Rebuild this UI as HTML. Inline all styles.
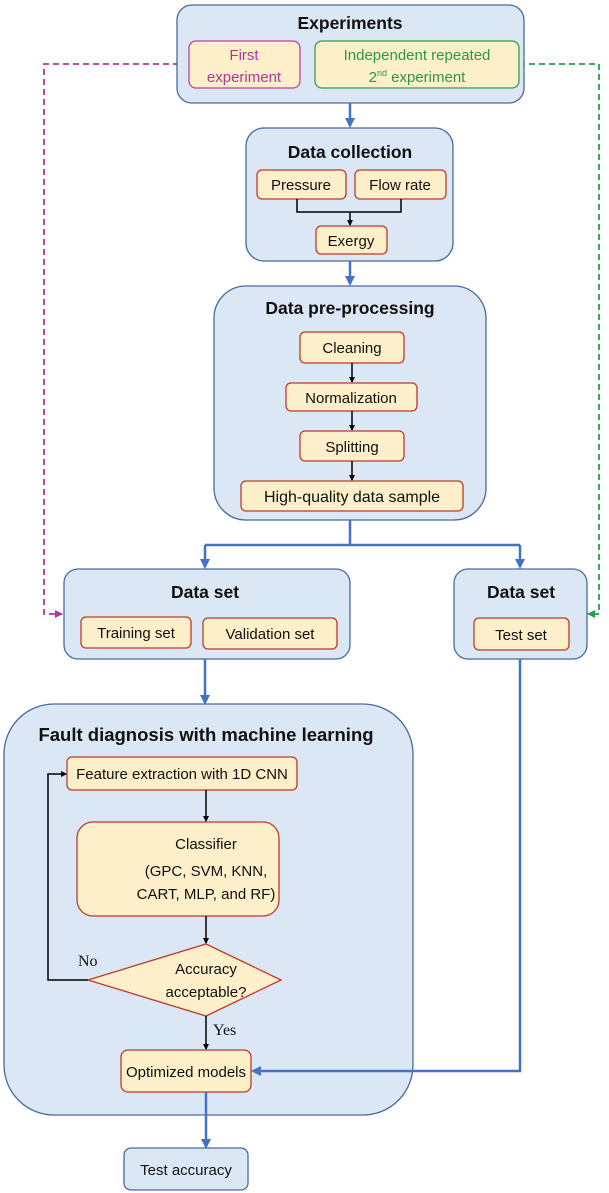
<!DOCTYPE html>
<html><head><meta charset="utf-8"><style>
html,body{margin:0;padding:0;background:#fff}
svg{display:block}
text{font-family:"Liberation Sans",sans-serif;fill:#111}
.t{font-weight:bold;font-size:17.5px}
.s{font-size:15px}
.big{fill:#dbe7f5;stroke:#4a6a9a;stroke-width:1.3}
.y{fill:#fdefc9;stroke:#c0392b;stroke-width:1.3}
.bl{stroke:#4472c4;stroke-width:2.5;fill:none}
.bk{stroke:#000;stroke-width:1.5;fill:none}
</style></head><body>
<svg width="609" height="1193" viewBox="0 0 609 1193" xmlns="http://www.w3.org/2000/svg">
<defs>
<marker id="ab" markerWidth="10" markerHeight="10" refX="8" refY="5" orient="auto" markerUnits="userSpaceOnUse"><path d="M0,0 L10,5 L0,10 Z" fill="#4472c4"/></marker>
<marker id="ak" markerWidth="6" markerHeight="6" refX="5" refY="3" orient="auto" markerUnits="userSpaceOnUse"><path d="M0,0 L6,3 L0,6 Z" fill="#000"/></marker>
<marker id="am" markerWidth="8" markerHeight="8" refX="7" refY="4" orient="auto" markerUnits="userSpaceOnUse"><path d="M0,0 L8,4 L0,8 Z" fill="#b5359b"/></marker>
<marker id="ag" markerWidth="8" markerHeight="8" refX="7" refY="4" orient="auto" markerUnits="userSpaceOnUse"><path d="M0,0 L8,4 L0,8 Z" fill="#22a04a"/></marker>
</defs>

<path d="M189,64 H44 V614 H62" stroke="#b5359b" stroke-width="1.8" stroke-dasharray="6,4" fill="none" marker-end="url(#am)"/>
<path d="M519,64 H599 V614 H588" stroke="#22a04a" stroke-width="1.8" stroke-dasharray="6,4" fill="none" marker-end="url(#ag)"/>

<rect class="big" x="177" y="5" width="347" height="98" rx="15"/>
<text class="t" x="350" y="29" text-anchor="middle">Experiments</text>
<rect x="189" y="41" width="111" height="47" rx="7" fill="#fdefc9" stroke="#c040a0" stroke-width="1.3"/>
<text class="s" x="244" y="60" text-anchor="middle" style="fill:#b5359b">First</text>
<text class="s" x="244" y="82" text-anchor="middle" style="fill:#b5359b">experiment</text>
<rect x="315" y="41" width="204" height="47" rx="7" fill="#fdefc9" stroke="#2ea04a" stroke-width="1.3"/>
<text class="s" x="417" y="60" text-anchor="middle" style="fill:#2a9a40">Independent repeated</text>
<text class="s" x="417" y="82" text-anchor="middle" style="fill:#2a9a40">2<tspan font-size="9" dy="-6" style="fill:#2a9a40">nd</tspan><tspan dy="6" style="fill:#2a9a40"> experiment</tspan></text>

<line class="bl" x1="350" y1="103" x2="350" y2="126" marker-end="url(#ab)"/>

<rect class="big" x="246" y="128" width="207" height="133" rx="18"/>
<text class="t" x="350" y="158" text-anchor="middle">Data collection</text>
<rect class="y" x="257" y="170" width="89" height="29" rx="5"/>
<text class="s" x="301" y="190" text-anchor="middle">Pressure</text>
<rect class="y" x="355" y="170" width="91" height="29" rx="5"/>
<text class="s" x="400" y="190" text-anchor="middle">Flow rate</text>
<path class="bk" d="M297,199 V212 H401 V199"/>
<line class="bk" x1="350" y1="212" x2="350" y2="225" marker-end="url(#ak)"/>
<rect class="y" x="316" y="226" width="71" height="28" rx="5"/>
<text class="s" x="351" y="246" text-anchor="middle">Exergy</text>

<line class="bl" x1="350" y1="261" x2="350" y2="284" marker-end="url(#ab)"/>

<rect class="big" x="214" y="286" width="272" height="234" rx="32"/>
<text class="t" x="350" y="314" text-anchor="middle">Data pre-processing</text>
<rect class="y" x="300" y="332" width="104" height="31" rx="5"/>
<text class="s" x="352" y="353" text-anchor="middle">Cleaning</text>
<line class="bk" x1="352" y1="363" x2="352" y2="382" marker-end="url(#ak)"/>
<rect class="y" x="286" y="383" width="131" height="28" rx="5"/>
<text class="s" x="351" y="403" text-anchor="middle">Normalization</text>
<line class="bk" x1="352" y1="411" x2="352" y2="430" marker-end="url(#ak)"/>
<rect class="y" x="300" y="431" width="104" height="30" rx="5"/>
<text class="s" x="352" y="452" text-anchor="middle">Splitting</text>
<line class="bk" x1="352" y1="461" x2="352" y2="480" marker-end="url(#ak)"/>
<rect class="y" x="241" y="481" width="222" height="30" rx="5"/>
<text class="s" x="352" y="502" text-anchor="middle" style="font-size:16px">High-quality data sample</text>

<path class="bl" d="M350,520 V545 M205,545 H520"/>
<line class="bl" x1="205" y1="545" x2="205" y2="567" marker-end="url(#ab)"/>
<line class="bl" x1="520" y1="545" x2="520" y2="567" marker-end="url(#ab)"/>

<rect class="big" x="64" y="569" width="286" height="90" rx="14"/>
<text class="t" x="205" y="598" text-anchor="middle">Data set</text>
<rect class="y" x="81" y="617" width="110" height="31" rx="5"/>
<text class="s" x="136" y="638" text-anchor="middle">Training set</text>
<rect class="y" x="203" y="618" width="134" height="31" rx="5"/>
<text class="s" x="270" y="639" text-anchor="middle">Validation set</text>

<rect class="big" x="454" y="569" width="133" height="90" rx="14"/>
<text class="t" x="521" y="598" text-anchor="middle">Data set</text>
<rect class="y" x="474" y="618" width="95" height="32" rx="5"/>
<text class="s" x="521" y="640" text-anchor="middle">Test set</text>

<line class="bl" x1="205" y1="659" x2="205" y2="703" marker-end="url(#ab)"/>

<rect class="big" x="4" y="704" width="409" height="411" rx="50"/>
<text class="t" x="206" y="741" text-anchor="middle" style="font-size:18.5px">Fault diagnosis with machine learning</text>
<rect class="y" x="67" y="757" width="230" height="33" rx="5"/>
<text class="s" x="182" y="779" text-anchor="middle">Feature extraction with 1D CNN</text>
<line class="bk" x1="206" y1="790" x2="206" y2="821" marker-end="url(#ak)"/>
<rect class="y" x="77" y="822" width="202" height="94" rx="16"/>
<text class="s" x="206" y="849" text-anchor="middle">Classifier</text>
<text class="s" x="206" y="876" text-anchor="middle">(GPC, SVM, KNN,</text>
<text class="s" x="206" y="899" text-anchor="middle">CART, MLP, and RF)</text>
<line class="bk" x1="206" y1="916" x2="206" y2="943" marker-end="url(#ak)"/>
<polygon points="206,944 281,980 206,1016 88,980" fill="#fdefc9" stroke="#c0392b" stroke-width="1.3"/>
<text class="s" x="206" y="974" text-anchor="middle">Accuracy</text>
<text class="s" x="206" y="997" text-anchor="middle">acceptable?</text>
<path class="bk" d="M88,980 H48 V774 H66" marker-end="url(#ak)"/>
<text x="78" y="966" style="font-family:'Liberation Serif',serif;font-size:16px">No</text>
<text x="213" y="1035" style="font-family:'Liberation Serif',serif;font-size:16px">Yes</text>
<line class="bk" x1="206" y1="1016" x2="206" y2="1049" marker-end="url(#ak)"/>
<rect class="y" x="121" y="1050" width="130" height="42" rx="7"/>
<text class="s" x="186" y="1077" text-anchor="middle">Optimized models</text>

<path class="bl" d="M520,659 V1071 H253" marker-end="url(#ab)"/>
<line class="bl" x1="206" y1="1092" x2="206" y2="1147" marker-end="url(#ab)"/>
<rect class="big" x="124" y="1148" width="124" height="42" rx="7"/>
<text class="s" x="186" y="1175" text-anchor="middle">Test accuracy</text>
</svg>
</body></html>
